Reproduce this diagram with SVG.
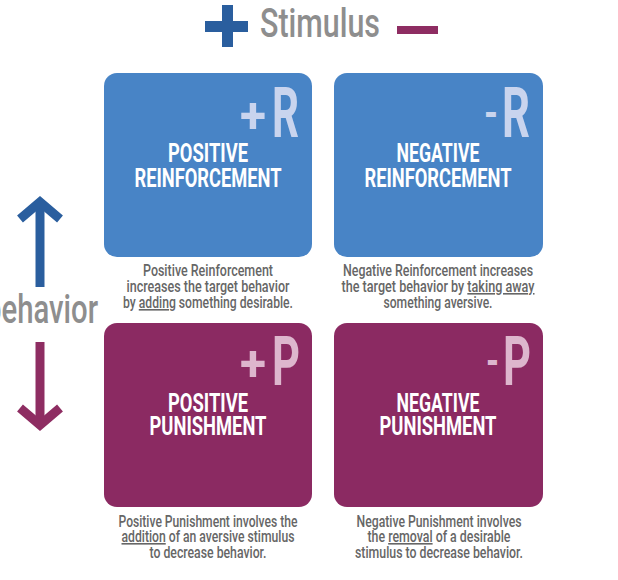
<svg xmlns="http://www.w3.org/2000/svg" width="618" height="580" viewBox="0 0 618 580">
<style>
.box-r{fill:#4884C6}
.box-p{fill:#8B2A62}
.title{font-family:Roboto,"Liberation Sans",sans-serif;font-weight:700;font-size:26px;fill:#FFFFFF;text-anchor:middle}
.big-r{font-family:Roboto,"Liberation Sans",sans-serif;font-weight:700;fill:#C9D4EE}
.big-p{font-family:Roboto,"Liberation Sans",sans-serif;font-weight:700;fill:#DDB6CD}
.desc{font-family:Roboto,"Liberation Sans",sans-serif;font-weight:500;font-size:16px;fill:#666666;text-anchor:middle}
.u{text-decoration:underline}
.axis{font-family:Roboto,"Liberation Sans",sans-serif;font-weight:500;font-size:40px;fill:#8E8E8E}
</style>
<rect width="618" height="580" fill="#FFFFFF"/>

<g id="stimulus-axis">
<rect x="205" y="21" width="43" height="11" fill="#2A5E9E"/>
<rect x="222" y="5" width="11" height="42" fill="#2A5E9E"/>
<text class="axis" x="260" y="37" textLength="120" lengthAdjust="spacingAndGlyphs">Stimulus</text>
<rect x="397" y="26" width="41" height="8" fill="#8E2D62"/>
</g>

<g id="behavior-axis">
<path d="M40,287 V206" stroke="#2A5E9E" stroke-width="9" fill="none"/>
<polyline points="20,219 40,202 60,219" stroke="#2A5E9E" stroke-width="9" fill="none" stroke-linejoin="miter"/>
<text class="axis" x="-15" y="323" textLength="113" lengthAdjust="spacingAndGlyphs">behavior</text>
<path d="M40,342 V421" stroke="#8E2D62" stroke-width="9" fill="none"/>
<polyline points="20,408 40,425 60,408" stroke="#8E2D62" stroke-width="9" fill="none" stroke-linejoin="miter"/>
</g>

<g id="positive-reinforcement">
<rect class="box-r" x="104" y="73" width="208" height="184" rx="13"/>
<text class="big-r" font-size="50" x="240" y="133" textLength="26" lengthAdjust="spacingAndGlyphs">+</text>
<text class="big-r" font-size="70" x="272" y="137" textLength="27" lengthAdjust="spacingAndGlyphs">R</text>
<text class="title" x="208" y="162" textLength="80" lengthAdjust="spacingAndGlyphs">POSITIVE</text>
<text class="title" x="208" y="187" textLength="147" lengthAdjust="spacingAndGlyphs">REINFORCEMENT</text>
<text class="desc" x="208" y="276" textLength="130" lengthAdjust="spacingAndGlyphs">Positive Reinforcement</text>
<text class="desc" x="208" y="292" textLength="163" lengthAdjust="spacingAndGlyphs">increases the target behavior</text>
<text class="desc" x="208" y="308" textLength="170" lengthAdjust="spacingAndGlyphs">by <tspan class="u">adding</tspan> something desirable.</text>
</g>

<g id="negative-reinforcement">
<rect class="box-r" x="334" y="73" width="209" height="184" rx="13"/>
<text class="big-r" font-size="44" x="484" y="128" textLength="14" lengthAdjust="spacingAndGlyphs">-</text>
<text class="big-r" font-size="70" x="502" y="137" textLength="28" lengthAdjust="spacingAndGlyphs">R</text>
<text class="title" x="438" y="162" textLength="83" lengthAdjust="spacingAndGlyphs">NEGATIVE</text>
<text class="title" x="438" y="187" textLength="147" lengthAdjust="spacingAndGlyphs">REINFORCEMENT</text>
<text class="desc" x="438" y="276" textLength="190" lengthAdjust="spacingAndGlyphs">Negative Reinforcement increases</text>
<text class="desc" x="438" y="292" textLength="193" lengthAdjust="spacingAndGlyphs">the target behavior by <tspan class="u">taking away</tspan></text>
<text class="desc" x="438" y="308" textLength="109" lengthAdjust="spacingAndGlyphs">something aversive.</text>
</g>

<g id="positive-punishment">
<rect class="box-p" x="104" y="323" width="208" height="184" rx="13"/>
<text class="big-p" font-size="50" x="240" y="381" textLength="26" lengthAdjust="spacingAndGlyphs">+</text>
<text class="big-p" font-size="68" x="272" y="385" textLength="28" lengthAdjust="spacingAndGlyphs">P</text>
<text class="title" x="208" y="412" textLength="80" lengthAdjust="spacingAndGlyphs">POSITIVE</text>
<text class="title" x="208" y="435" textLength="117" lengthAdjust="spacingAndGlyphs">PUNISHMENT</text>
<text class="desc" x="208" y="527" textLength="179" lengthAdjust="spacingAndGlyphs">Positive Punishment involves the</text>
<text class="desc" x="208" y="542" textLength="173" lengthAdjust="spacingAndGlyphs"><tspan class="u">addition</tspan> of an aversive stimulus</text>
<text class="desc" x="208" y="558" textLength="117" lengthAdjust="spacingAndGlyphs">to decrease behavior.</text>
</g>

<g id="negative-punishment">
<rect class="box-p" x="334" y="323" width="209" height="184" rx="13"/>
<text class="big-p" font-size="44" x="486" y="376" textLength="13" lengthAdjust="spacingAndGlyphs">-</text>
<text class="big-p" font-size="68" x="503" y="385" textLength="28" lengthAdjust="spacingAndGlyphs">P</text>
<text class="title" x="438" y="412" textLength="83" lengthAdjust="spacingAndGlyphs">NEGATIVE</text>
<text class="title" x="438" y="435" textLength="117" lengthAdjust="spacingAndGlyphs">PUNISHMENT</text>
<text class="desc" x="439" y="527" textLength="165" lengthAdjust="spacingAndGlyphs">Negative Punishment involves</text>
<text class="desc" x="439" y="542" textLength="143" lengthAdjust="spacingAndGlyphs">the <tspan class="u">removal</tspan> of a desirable</text>
<text class="desc" x="439" y="558" textLength="168" lengthAdjust="spacingAndGlyphs">stimulus to decrease behavior.</text>
</g>
</svg>
